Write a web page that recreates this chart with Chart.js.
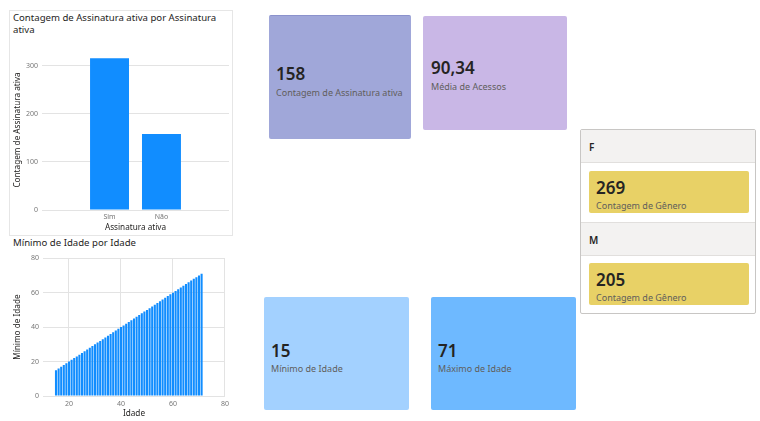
<!DOCTYPE html>
<html>
<head>
<meta charset="utf-8">
<script src="https://cdn.jsdelivr.net/npm/chart.js@4"></script>
<style>
  body { margin: 0; width: 760px; height: 421px; background: #fff; position: relative; overflow: hidden;
         font-family: "Segoe UI", "Noto Sans", "Open Sans", sans-serif; }
  .abs { position: absolute; }
  .box1 { left: 9px; top: 10px; width: 222px; height: 224px; border: 1px solid #e6e6e6; }
  .title { font-size: 9.6px; color: #252423; line-height: 12px; }
  .card { position: absolute; border-radius: 2px; }
  .val { position: absolute; font-size: 17px; font-weight: 600; color: #252423; line-height: 1; }
  .lbl { position: absolute; font-size: 9px; color: #605e5c; line-height: 1; white-space: nowrap; }
  .mrc { left: 580px; top: 129px; width: 174px; height: 183px; border: 1px solid #c8c6c4; border-radius: 2px; }
  .hdr { position: absolute; left: 0; width: 174px; height: 32px; background: #f3f2f1; border-bottom: 1px solid #e1dfdd; }
  .hdr span { position: absolute; left: 8px; top: 10px; font-size: 10px; font-weight: 600; color: #252423; }
  .ycard { position: absolute; left: 8px; width: 160px; height: 42px; background: #e8d166; border-radius: 2px; }
</style>
</head>
<body>
<div class="abs box1"></div>
<div class="abs title" style="left:13px;top:12px;width:215px;">Contagem de Assinatura ativa por Assinatura ativa</div>
<canvas id="c1" class="abs" style="left:9px;top:35px;" width="224" height="200"></canvas>

<div class="abs title" style="left:13px;top:237px;">Mínimo de Idade por Idade</div>
<canvas id="c2" class="abs" style="left:9px;top:250px;" width="224" height="171"></canvas>

<div class="card" style="left:269px;top:15px;width:142px;height:123px;background:#a0a7d9;border-top:1px solid #8b92cc;">
  <span class="val" style="left:7px;top:49px;">158</span>
  <span class="lbl" style="left:7px;top:72px;">Contagem de Assinatura ativa</span>
</div>
<div class="card" style="left:423px;top:16px;width:144px;height:114px;background:#c9b7e6;">
  <span class="val" style="left:8px;top:43px;">90,34</span>
  <span class="lbl" style="left:8px;top:66px;">Média de Acessos</span>
</div>
<div class="card" style="left:264px;top:297px;width:145px;height:113px;background:#a3d1ff;">
  <span class="val" style="left:7px;top:45px;">15</span>
  <span class="lbl" style="left:7px;top:67px;">Mínimo de Idade</span>
</div>
<div class="card" style="left:431px;top:297px;width:145px;height:113px;background:#6eb9ff;">
  <span class="val" style="left:7px;top:45px;">71</span>
  <span class="lbl" style="left:7px;top:67px;">Máximo de Idade</span>
</div>

<div class="abs mrc">
  <div class="hdr" style="top:0;"><span>F</span></div>
  <div class="ycard" style="top:41px;">
    <span class="val" style="left:7px;top:8px;">269</span>
    <span class="lbl" style="left:7px;top:30px;">Contagem de Gênero</span>
  </div>
  <div class="hdr" style="top:92px;border-top:1px solid #e1dfdd;"><span>M</span></div>
  <div class="ycard" style="top:133px;">
    <span class="val" style="left:7px;top:8px;">205</span>
    <span class="lbl" style="left:7px;top:30px;">Contagem de Gênero</span>
  </div>
</div>

<script>
// chart 1 data
const assinaturaCats = ['Sim', 'Não'];
const assinaturaCounts = [316, 158];
const yTicks1 = [0, 100, 200, 300];

// chart 2 data
const idades = [15, 16, 17, 18, 19, 20, 21, 22, 23, 24, 25, 26, 27, 28, 29, 30, 31, 32, 33, 34,
  35, 36, 37, 38, 39, 40, 41, 42, 43, 44, 45, 46, 47, 48, 49, 50, 51, 52, 53, 54,
  55, 56, 57, 58, 59, 60, 61, 62, 63, 64, 65, 66, 67, 68, 69, 70, 71];
const minimoIdade = [15, 16, 17, 18, 19, 20, 21, 22, 23, 24, 25, 26, 27, 28, 29, 30, 31, 32, 33, 34,
  35, 36, 37, 38, 39, 40, 41, 42, 43, 44, 45, 46, 47, 48, 49, 50, 51, 52, 53, 54,
  55, 56, 57, 58, 59, 60, 61, 62, 63, 64, 65, 66, 67, 68, 69, 70, 71];
const xTicks2 = [20, 40, 60, 80];
const yTicks2 = [0, 20, 40, 60, 80];

const barBlue = '#118dff';
const tickFont = { family: '"Segoe UI", "Noto Sans", sans-serif', size: 7 };
const titleFont = { family: '"Segoe UI", "Noto Sans", sans-serif', size: 8.2 };
const dotted = { color: '#e3e3e3', borderDash: [1, 3], drawTicks: false };

Chart.defaults.animation = false;

new Chart(document.getElementById('c1'), {
  type: 'bar',
  data: {
    datasets: [{
      data: assinaturaCounts.map((v, i) => ({ x: i + 1, y: v })),
      backgroundColor: barBlue,
      barPercentage: 0.75,
      categoryPercentage: 1
    }]
  },
  options: {
    responsive: false,
    layout: { padding: { left: 0, right: 4, top: 15, bottom: 0 } },
    plugins: { legend: { display: false }, tooltip: { enabled: false } },
    scales: {
      x: {
        type: 'linear', min: -0.3, max: 3.3, offset: false,
        afterBuildTicks: s => { s.ticks = assinaturaCats.map((c, i) => ({ value: i + 1 })); },
        afterFit: s => { s.height = 25; },
        ticks: { font: tickFont, color: '#777', padding: 3, maxRotation: 0, autoSkip: false,
                 callback: v => assinaturaCats[v - 1] },
        grid: { display: false, drawTicks: false },
        border: { display: false },
        title: { display: true, text: 'Assinatura ativa', font: titleFont, color: '#252423', padding: { top: 1, bottom: 2 } }
      },
      y: {
        min: 0, max: 333,
        afterBuildTicks: s => { s.ticks = yTicks1.map(v => ({ value: v })); },
        afterFit: s => { s.width = 33; },
        ticks: { font: tickFont, color: '#777', padding: 4 },
        grid: dotted,
        border: { display: false },
        title: { display: true, text: 'Contagem de Assinatura ativa', font: titleFont, color: '#252423' }
      }
    }
  }
});

new Chart(document.getElementById('c2'), {
  type: 'bar',
  data: {
    datasets: [{
      data: idades.map((a, i) => ({ x: a, y: minimoIdade[i] })),
      backgroundColor: barBlue,
      barPercentage: 0.8,
      categoryPercentage: 1
    }]
  },
  options: {
    responsive: false,
    layout: { padding: { left: 0, right: 6, top: 6, bottom: 0 } },
    plugins: { legend: { display: false }, tooltip: { enabled: false } },
    scales: {
      x: {
        type: 'linear', min: 10, max: 80, offset: false,
        afterBuildTicks: s => { s.ticks = xTicks2.map(v => ({ value: v })); },
        afterFit: s => { s.height = 25; },
        ticks: { font: tickFont, color: '#777', padding: 4, maxRotation: 0, autoSkip: false },
        grid: Object.assign({}, dotted, { offset: false }),
        border: { display: false },
        title: { display: true, text: 'Idade', font: titleFont, color: '#252423', padding: { top: 1, bottom: 2 } }
      },
      y: {
        min: 0, max: 80,
        afterBuildTicks: s => { s.ticks = yTicks2.map(v => ({ value: v })); },
        afterFit: s => { s.width = 34; },
        ticks: { font: tickFont, color: '#777', padding: 4 },
        grid: dotted,
        border: { display: false },
        title: { display: true, text: 'Mínimo de Idade', font: titleFont, color: '#252423' }
      }
    }
  }
});
</script>
</body>
</html>
